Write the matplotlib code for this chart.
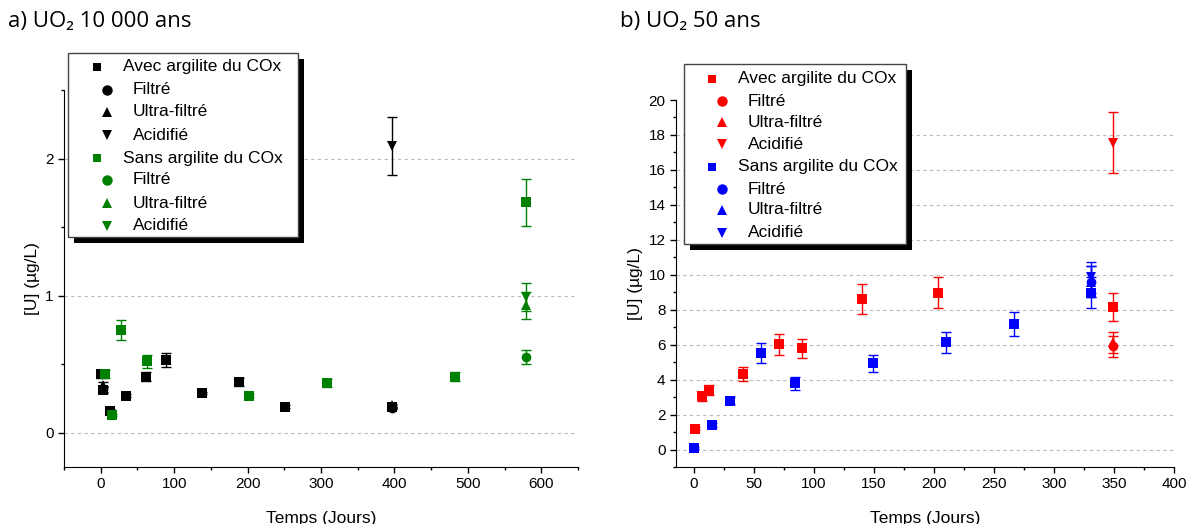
import matplotlib
matplotlib.use("Agg")
import matplotlib.pyplot as plt
from matplotlib.lines import Line2D
from matplotlib.patches import Rectangle
from matplotlib.ticker import MultipleLocator

plt.rcParams["font.family"] = ["Liberation Sans", "DejaVu Sans"]

W, H = 1189, 524

# a) UO2 10 000 ans
a_avec_sq_x = [0, 3.5, 12.6, 35, 61.5, 89, 138, 188, 251, 397]
a_avec_sq_y = [0.43, 0.31, 0.16, 0.27, 0.41, 0.53, 0.29, 0.37, 0.19, 0.19]
a_avec_sq_err = [0.03, 0.02, 0.01, 0.01, 0.03, 0.05, 0.01, 0.03, 0.01, 0.01]
a_avec_filt_x = [3.5, 397]
a_avec_filt_y = [0.32, 0.18]
a_avec_filt_err = [0.02, 0.01]
a_avec_ultra_x = [3.5, 397]
a_avec_ultra_y = [0.35, 0.2]
a_avec_ultra_err = [0.02, 0.01]
a_avec_acid_x = [397]
a_avec_acid_y = [2.09]
a_avec_acid_err = [0.21]

a_sans_sq_x = [5.8, 15, 28, 63, 202, 308.5, 482, 579]
a_sans_sq_y = [0.43, 0.13, 0.75, 0.52, 0.27, 0.36, 0.41, 1.68]
a_sans_sq_err = [0.03, 0.01, 0.075, 0.05, 0.01, 0.03, 0.03, 0.17]
a_sans_filt_x = [579]
a_sans_filt_y = [0.55]
a_sans_filt_err = [0.05]
a_sans_ultra_x = [579]
a_sans_ultra_y = [0.93]
a_sans_ultra_err = [0.1]
a_sans_acid_x = [579]
a_sans_acid_y = [0.99]
a_sans_acid_err = [0.1]

# b) UO2 50 ans
b_avec_sq_x = [0.5, 6.7, 12.5, 40.5, 70.5, 90, 140, 203, 349.5]
b_avec_sq_y = [1.19, 3.05, 3.4, 4.33, 6.03, 5.8, 8.62, 8.97, 8.16]
b_avec_sq_err = [0.1, 0.25, 0.3, 0.4, 0.6, 0.55, 0.85, 0.9, 0.8]
b_avec_filt_x = [349.5]
b_avec_filt_y = [5.9]
b_avec_filt_err = [0.6]
b_avec_ultra_x = [349.5]
b_avec_ultra_y = [6.15]
b_avec_ultra_err = [0.6]
b_avec_acid_x = [349.5]
b_avec_acid_y = [17.55]
b_avec_acid_err = [1.75]

b_sans_sq_x = [0, 14.7, 30, 56, 84, 149, 210, 266.5, 331]
b_sans_sq_y = [0.1, 1.4, 2.8, 5.52, 3.78, 4.93, 6.15, 7.17, 8.97]
b_sans_sq_err = [0.05, 0.1, 0.2, 0.55, 0.35, 0.5, 0.6, 0.7, 0.9]
b_sans_filt_x = [331]
b_sans_filt_y = [9.6]
b_sans_filt_err = [0.9]
b_sans_ultra_x = [331]
b_sans_ultra_y = [9.6]
b_sans_ultra_err = [0.9]
b_sans_acid_x = [331]
b_sans_acid_y = [9.85]
b_sans_acid_err = [0.9]

legend_labels = ["Avec argilite du COx", "Filtré", "Ultra-filtré", "Acidifié",
                 "Sans argilite du COx", "Filtré", "Ultra-filtré", "Acidifié"]
legend_markers = ["s", "o", "^", "v", "s", "o", "^", "v"]


def fx(px):
    return px / W


def fy(py):
    return 1 - py / H


def series(ax, x, y, err, marker, color):
    # barres d'erreur puis marqueurs par-dessus
    ax.errorbar(x, y, yerr=err, fmt="none", ecolor=color, elinewidth=1,
                capsize=3.5, capthick=1, zorder=3)
    ax.plot(x, y, marker, color=color, ms=7, mew=0, zorder=4)


def style_axes(ax):
    for s in ["top", "right"]:
        ax.spines[s].set_visible(False)
    ax.tick_params(which="major", direction="out", length=4, width=1,
                   labelsize=11, colors="black")
    ax.tick_params(which="minor", direction="out", length=2.5, width=1)


def draw_legend(fig, box, colors, mk_x, txt_x, rows):
    x0, y0, x1, y1 = box
    fig.add_artist(Rectangle((fx(x0 + 6), fy(y1 + 6)), fx(x1 - x0), (y1 - y0) / H,
                             transform=fig.transFigure, facecolor="black",
                             edgecolor="none", zorder=5))
    fig.add_artist(Rectangle((fx(x0), fy(y1)), fx(x1 - x0), (y1 - y0) / H,
                             transform=fig.transFigure, facecolor="white",
                             edgecolor="#444444", lw=1, zorder=6))
    for i, (lab, mk, yy) in enumerate(zip(legend_labels, legend_markers, rows)):
        col = colors[0] if i < 4 else colors[1]
        indent = 0 if i % 4 == 0 else 10
        ms = 6 if mk == "s" else 7.5
        fig.add_artist(Line2D([fx(mk_x + indent)], [fy(yy)], marker=mk, color=col,
                              ms=ms, mew=0, transform=fig.transFigure, zorder=7))
        fig.text(fx(txt_x + indent), fy(yy), lab, fontsize=12.5, va="center",
                 ha="left", zorder=7)


fig = plt.figure(figsize=(W / 100, H / 100), dpi=100)

# panel a
ax1 = fig.add_axes([fx(64), fy(467), fx(578 - 64), (467 - 90) / H])
series(ax1, a_avec_sq_x, a_avec_sq_y, a_avec_sq_err, "s", "black")
series(ax1, a_avec_filt_x, a_avec_filt_y, a_avec_filt_err, "o", "black")
series(ax1, a_avec_ultra_x, a_avec_ultra_y, a_avec_ultra_err, "^", "black")
series(ax1, a_avec_acid_x, a_avec_acid_y, a_avec_acid_err, "v", "black")
series(ax1, a_sans_sq_x, a_sans_sq_y, a_sans_sq_err, "s", "green")
series(ax1, a_sans_filt_x, a_sans_filt_y, a_sans_filt_err, "o", "green")
series(ax1, a_sans_ultra_x, a_sans_ultra_y, a_sans_ultra_err, "^", "green")
series(ax1, a_sans_acid_x, a_sans_acid_y, a_sans_acid_err, "v", "green")
ax1.set_xlim(-50, 650)
ax1.set_ylim(-0.25, 2.5)
ax1.set_xticks([0, 100, 200, 300, 400, 500, 600])
ax1.xaxis.set_minor_locator(MultipleLocator(50))
ax1.set_yticks([0, 1, 2])
ax1.yaxis.set_minor_locator(MultipleLocator(0.5))
for v in [0, 1, 2]:
    ax1.axhline(v, color="#bbbbbb", lw=0.8, ls=(0, (3, 3)), zorder=1)
style_axes(ax1)
ax1.set_xlabel("Temps (Jours)", fontsize=12.5, labelpad=14)
ax1.set_ylabel("[U] (µg/L)", fontsize=12.5, labelpad=4)

# panel b
ax2 = fig.add_axes([fx(676), fy(467), fx(1174 - 676), (467 - 100) / H])
series(ax2, b_avec_sq_x, b_avec_sq_y, b_avec_sq_err, "s", "red")
series(ax2, b_avec_filt_x, b_avec_filt_y, b_avec_filt_err, "o", "red")
series(ax2, b_avec_ultra_x, b_avec_ultra_y, b_avec_ultra_err, "^", "red")
series(ax2, b_avec_acid_x, b_avec_acid_y, b_avec_acid_err, "v", "red")
series(ax2, b_sans_sq_x, b_sans_sq_y, b_sans_sq_err, "s", "blue")
series(ax2, b_sans_filt_x, b_sans_filt_y, b_sans_filt_err, "o", "blue")
series(ax2, b_sans_ultra_x, b_sans_ultra_y, b_sans_ultra_err, "^", "blue")
series(ax2, b_sans_acid_x, b_sans_acid_y, b_sans_acid_err, "v", "blue")
ax2.set_xlim(-15, 400)
ax2.set_ylim(-1, 20)
ax2.set_xticks([0, 50, 100, 150, 200, 250, 300, 350, 400])
ax2.xaxis.set_minor_locator(MultipleLocator(25))
ax2.set_yticks(list(range(0, 21, 2)))
ax2.yaxis.set_minor_locator(MultipleLocator(1))
for v in range(0, 20, 2):
    ax2.axhline(v, color="#bbbbbb", lw=0.8, ls=(0, (3, 3)), zorder=1)
style_axes(ax2)
ax2.set_xlabel("Temps (Jours)", fontsize=12.5, labelpad=14)
ax2.set_ylabel("[U] (µg/L)", fontsize=12.5, labelpad=4)

# titres
fig.text(fx(8), fy(22), "a) UO₂ 10 000 ans", fontsize=16, va="center",
         family=["Open Sans", "DejaVu Sans"])
fig.text(fx(620), fy(22), "b) UO₂ 50 ans", fontsize=16, va="center",
         family=["Open Sans", "DejaVu Sans"])

draw_legend(fig, (68, 53, 298, 237), ("black", "green"), 97, 123,
            [66.7, 90, 111.7, 135, 158.3, 180, 203.3, 226])
draw_legend(fig, (684, 64, 906, 244), ("red", "blue"), 712, 738,
            [79, 101, 122.3, 144.3, 166.7, 189, 210, 232.7])

fig.savefig("out.png", dpi=100)
